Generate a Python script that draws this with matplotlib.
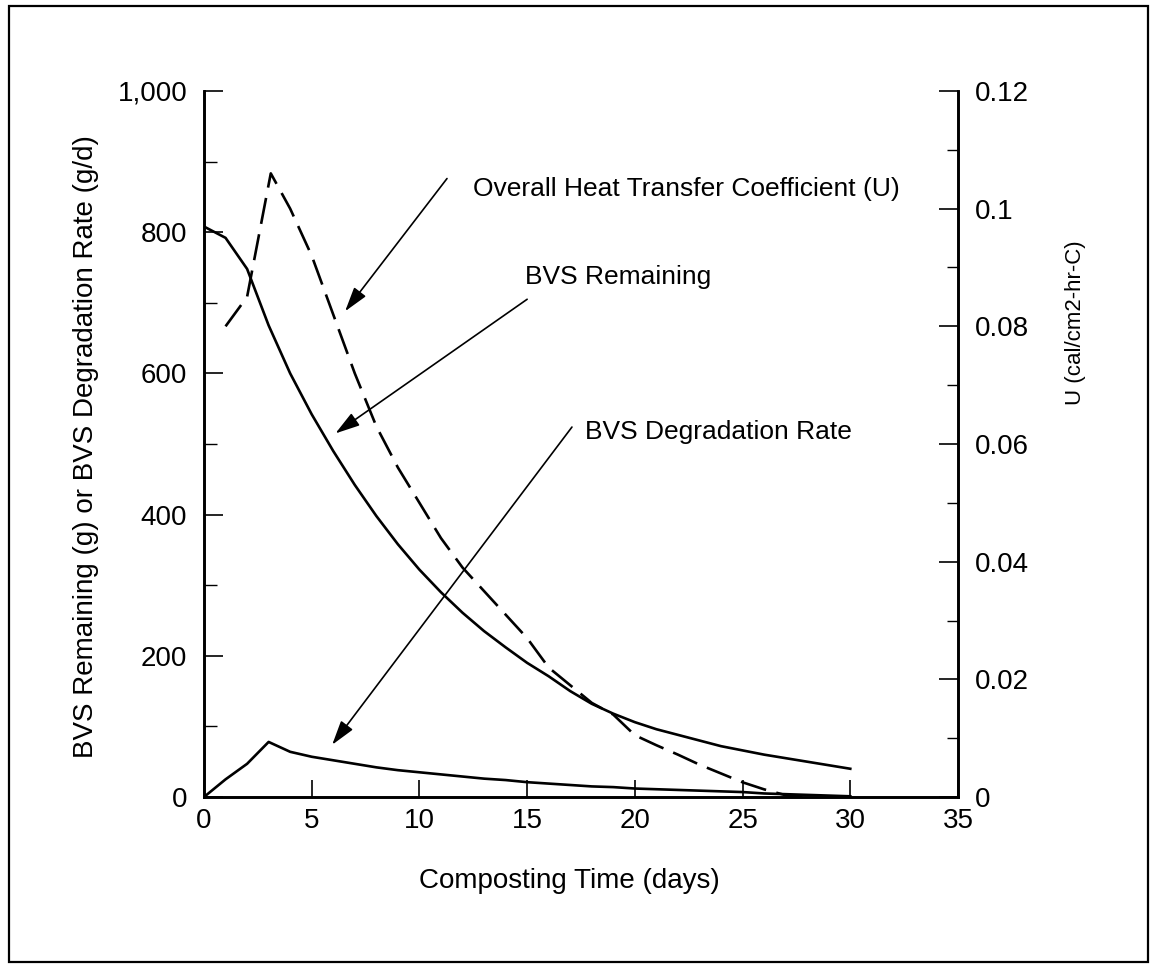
import matplotlib
matplotlib.use("Agg")
import matplotlib.pyplot as plt
from matplotlib.patches import Rectangle
from matplotlib.ticker import MultipleLocator, FuncFormatter

plt.rcParams['font.family'] = ['Liberation Sans', 'DejaVu Sans']

# ---- data ----
days_bvs = [0, 1, 2, 3, 4, 5, 6, 7, 8, 9, 10, 11, 12, 13, 14, 15,
            16, 17, 18, 19, 20, 21, 22, 23, 24, 25, 26, 27, 28, 29, 30]
bvs_remaining = [808, 792, 748, 668, 600, 542, 490, 442, 398, 358, 322, 290,
                 261, 235, 212, 190, 171, 150, 132, 118, 106, 96, 88, 80,
                 72, 66, 60, 55, 50, 45, 40]
bvs_rate = [0, 25, 47, 78, 64, 57, 52, 47, 42, 38, 35, 32, 29, 26, 24, 21,
            19, 17, 15, 14, 12, 11, 10, 9, 8, 7, 5, 4, 3, 2, 1]

days_u = [1, 2, 3.1, 4, 5, 6, 7, 8, 9, 10, 11, 12, 13, 14, 15, 16, 17, 18,
          19, 20, 21, 22, 23, 24, 25, 26, 27, 28]
u_coef = [0.080, 0.085, 0.106, 0.100, 0.092, 0.082, 0.072, 0.063, 0.056,
          0.050, 0.044, 0.039, 0.035, 0.031, 0.027, 0.022, 0.019, 0.016,
          0.014, 0.0105, 0.0088, 0.0072, 0.0055, 0.004, 0.0025, 0.0013,
          0.0003, 0.0]

x_ticks = [0, 5, 10, 15, 20, 25, 30, 35]
left_ticks = [0, 200, 400, 600, 800, 1000]
right_ticks = [0, 0.02, 0.04, 0.06, 0.08, 0.1, 0.12]
right_labels = ['0', '0.02', '0.04', '0.06', '0.08', '0.1', '0.12']

FS = 20
FSA = 19
W, H = 1152, 972
fig = plt.figure(figsize=(W / 100, H / 100), dpi=100)
fig.patch.set_facecolor('white')

L, R, T, B = 204, 958, 91, 797
ax = fig.add_axes([L / W, 1 - B / H, (R - L) / W, (B - T) / H])
ax2 = ax.twinx()

lw = 1.9
ax.plot(days_bvs, bvs_remaining, color='black', lw=lw, solid_joinstyle='round')
ax.plot(days_bvs, bvs_rate, color='black', lw=lw, solid_joinstyle='round')
ax2.plot(days_u, u_coef, color='black', lw=lw, dashes=(10, 4))

ax.set_xlim(0, 35)
ax.set_ylim(0, 1000)
ax2.set_ylim(0, 0.12)

for a in (ax, ax2):
    a.spines['top'].set_visible(False)
    for s in a.spines.values():
        s.set_linewidth(1.9)

ax.set_xticks(x_ticks)
ax.set_xticklabels([str(v) for v in x_ticks], fontsize=FS)
ax.set_yticks(left_ticks)
ax.yaxis.set_minor_locator(MultipleLocator(100))
ax.yaxis.set_major_formatter(FuncFormatter(lambda v, p: f"{int(v):,}"))
ax2.set_yticks(right_ticks)
ax2.set_yticklabels(right_labels)
ax2.yaxis.set_minor_locator(MultipleLocator(0.01))

ax.tick_params(axis='x', direction='in', length=12, width=1.2, pad=8,
               labelsize=FS)
ax.tick_params(axis='y', which='major', direction='in', length=14, width=1.2,
               pad=12, labelsize=FS)
ax.tick_params(axis='y', which='minor', direction='in', length=9, width=1.0)
ax2.tick_params(axis='y', which='major', direction='in', length=14, width=1.2,
                pad=12, labelsize=FS)
ax2.tick_params(axis='y', which='minor', direction='in', length=8, width=1.0)

ax.set_xlabel('Composting Time (days)', fontsize=FS)
ax.xaxis.set_label_coords((569 - L) / (R - L), (B - 868) / (B - T))
ax.set_ylabel('BVS Remaining (g) or BVS Degradation Rate (g/d)', fontsize=FS)
ax.yaxis.set_label_coords((99 - L) / (R - L), (B - 447) / (B - T))
ax2.set_ylabel('U (cal/cm2-hr-C)', fontsize=16, rotation=90)
ax2.yaxis.set_label_coords((1065 - L) / (R - L), (B - 323) / (B - T))

arrow = dict(arrowstyle='-|>,head_length=1.5,head_width=0.45',
             color='black', lw=1.2, shrinkA=0, shrinkB=0)
ax.text(12.49, 861, 'Overall Heat Transfer Coefficient (U)', fontsize=FSA,
        ha='left', va='center')
ax.annotate('', xy=(6.55, 688), xytext=(11.28, 876), arrowprops=arrow)
ax.text(14.91, 736, 'BVS Remaining', fontsize=FSA, ha='left', va='center')
ax.annotate('', xy=(6.1, 515), xytext=(15.0, 705), arrowprops=arrow)
ax.text(17.7, 517, 'BVS Degradation Rate', fontsize=FSA, ha='left',
        va='center')
ax.annotate('', xy=(5.95, 74), xytext=(17.08, 524), arrowprops=arrow)

fig.patches.append(Rectangle((9 / W, 1 - 962 / H), (1148 - 9) / W,
                             (962 - 6) / H, transform=fig.transFigure,
                             fill=False, edgecolor='black', lw=1.6))

fig.savefig('out.png', dpi=100, facecolor='white')
